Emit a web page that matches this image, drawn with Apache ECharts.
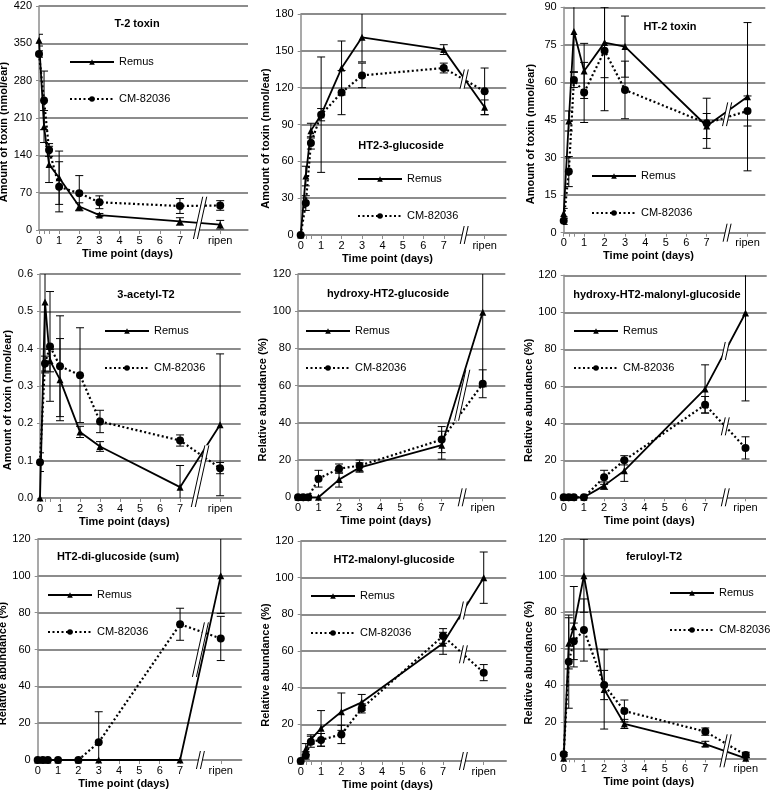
<!DOCTYPE html>
<html><head><meta charset="utf-8">
<script src="https://cdn.jsdelivr.net/npm/echarts@6/dist/echarts.min.js"></script>
<style>html,body{margin:0;padding:0;background:#fff}#c{width:774px;height:793px}</style>
</head><body><div id="c"></div>
<script>
// ---------- data ----------
const timePoints = [0, 0.25, 0.5, 1, 2, 3, 7, 9];
const xLabelValues = [0, 1, 2, 3, 4, 5, 6, 7, 9];
const xTickValues = [0, 0.25, 0.5, 1, 2, 3, 4, 5, 6, 7, 9];
const ripenValue = 9;
const ripenLabel = 'ripen';
const breakX = 8;
const seriesNames = ['Remus', 'CM-82036'];
const xAxisName = 'Time point (days)';
const panelTitles = ['T-2 toxin', 'HT2-3-glucoside', 'HT-2 toxin', '3-acetyl-T2', 'hydroxy-HT2-glucoside',
  'hydroxy-HT2-malonyl-glucoside', 'HT2-di-glucoside (sum)', 'HT2-malonyl-glucoside', 'feruloyl-T2'];
const yAxisNames = ['Amount of toxin (nmol/ear)', 'Amount of toxin (nmol/ear)', 'Amount of toxin (nmol/ear)',
  'Amount of toxin (nmol/ear)', 'Relative abundance (%)', 'Relative abundance (%)', 'Relative abundance (%)',
  'Relative abundance (%)', 'Relative abundance (%)'];
const yMaxes = [420, 180, 90, 0.6, 120, 120, 120, 120, 120];
const yIntervals = [70, 30, 15, 0.1, 20, 20, 20, 20, 20];
const yDecimals = [0, 0, 0, 1, 0, 0, 0, 0, 0];

const t2Remus = [356, 194, 123, 98, 44, 28, 16, 10];
const t2RemusSd = [11, 30, 34, 50, 7, 3, 7, 8];
const t2Cm = [330, 243, 150, 81, 69, 52, 45, 46];
const t2CmSd = [6, 55, 12, 47, 33, 12, 14, 9];

const ht2GlcRemus = [0, 48, 85, 98, 136, 161, 151, 104];
const ht2GlcRemusSd = [0, 8, 6, 47, 22, 20, 4, 6];
const ht2GlcCm = [0, 26, 75, 98, 116, 130, 136, 117];
const ht2GlcCmSd = [0, 6, 5, 5, 18, 10, 4, 19];

const ht2Remus = [7.7, 44.6, 80.3, 64.6, 75.9, 74.3, 42.6, 54.3];
const ht2RemusSd = [2, 4, 16, 11, 14, 12.2, 5, 29.6];
const ht2Cm = [4.8, 24.4, 61, 56, 72.7, 57, 43.7, 48.6];
const ht2CmSd = [1.5, 6, 3, 12, 24, 11.5, 10, 6];

const acRemus = [0, 0.525, 0.368, 0.317, 0.177, 0.138, 0.029, 0.196];
const acRemusSd = [0, 0.19, 0.03, 0.11, 0.015, 0.013, 0.058, 0.19];
const acCm = [0.096, 0.36, 0.406, 0.353, 0.329, 0.205, 0.154, 0.080];
const acCmSd = [0.025, 0.02, 0.147, 0.135, 0.127, 0.03, 0.015, 0.015];

const hGlcRemus = [0, 0, 0, 0, 9.5, 16, 28, 99.4];
const hGlcRemusSd = [0, 0, 0, 0, 4, 2.5, 7.5, 40];
const hGlcCm = [0, 0, 0, 10, 15.4, 17, 31, 61];
const hGlcCmSd = [0, 0, 0, 4.5, 2.5, 3, 7, 7.5];

const hMalRemus = [0, 0, 0, 0, 6.3, 14.4, 58.6, 99.6];
const hMalRemusSd = [0, 0, 0, 0, 2, 5.8, 13, 47.5];
const hMalCm = [0, 0, 0, 0, 10.8, 20, 50, 26.7];
const hMalCmSd = [0, 0, 0, 0, 3.8, 2.5, 4.5, 6];

const diGlcRemus = [0, 0, 0, 0, 0, 0, 0, 100];
const diGlcRemusSd = [0, 0, 0, 0, 0, 0, 0, 20.4];
const diGlcCm = [0, 0, 0, 0, 0, 9.6, 73.7, 66];
const diGlcCmSd = [0, 0, 0, 0, 0, 16.6, 8.7, 12];

const malGlcRemus = [0, 6.5, 11.8, 17.8, 26.9, 32, 64.2, 100];
const malGlcRemusSd = [0, 3, 2.5, 9.7, 10.2, 4.3, 6, 14];
const malGlcCm = [0, 3, 10.5, 11.5, 14.5, 28.7, 68.2, 48.2];
const malGlcCmSd = [0, 2, 3, 3.5, 5, 2.5, 4, 4.4];

const ferRemus = [0, 62.9, 72, 99.9, 37.7, 18.8, 7.8, 0];
const ferRemusSd = [0, 14, 22, 20, 21.7, 2.5, 1.5, 0.5];
const ferCm = [2.2, 52.9, 64, 70.2, 40.1, 25.9, 14.6, 1.8];
const ferCmSd = [1, 25.5, 10, 17, 8, 6, 2, 1.5];

const panelData = [
  [t2Remus, t2RemusSd, t2Cm, t2CmSd],
  [ht2GlcRemus, ht2GlcRemusSd, ht2GlcCm, ht2GlcCmSd],
  [ht2Remus, ht2RemusSd, ht2Cm, ht2CmSd],
  [acRemus, acRemusSd, acCm, acCmSd],
  [hGlcRemus, hGlcRemusSd, hGlcCm, hGlcCmSd],
  [hMalRemus, hMalRemusSd, hMalCm, hMalCmSd],
  [diGlcRemus, diGlcRemusSd, diGlcCm, diGlcCmSd],
  [malGlcRemus, malGlcRemusSd, malGlcCm, malGlcCmSd],
  [ferRemus, ferRemusSd, ferCm, ferCmSd]
];

// ---------- layout ----------
const layout = [
  {l: 39, t: 6, w: 209, h: 224, xMax: 10.38, title: [137, 24], leg: [69, 62]},
  {l: 300.7, t: 14, w: 205.6, h: 221, xMax: 10.06, title: [401, 146], leg: [357, 179]},
  {l: 563.7, t: 7.3, w: 201.6, h: 225.4, xMax: 9.87, title: [670, 27], leg: [591, 176]},
  {l: 40, t: 274, w: 200.7, h: 224, xMax: 10.03, title: [146, 295], leg: [104, 331]},
  {l: 298, t: 274, w: 207.3, h: 223.3, xMax: 10.1, title: [388, 294], leg: [305, 331]},
  {l: 563.7, t: 275.3, w: 203, h: 222, xMax: 10.05, title: [657, 295], leg: [573, 331]},
  {l: 37.7, t: 539, w: 204, h: 221, xMax: 10.03, title: [118, 557], leg: [47, 595]},
  {l: 300.7, t: 541, w: 205.6, h: 220, xMax: 10.11, title: [394, 560], leg: [310, 596]},
  {l: 563.7, t: 539, w: 202.3, h: 219.3, xMax: 10.0, title: [654, 557], leg: [669, 593]}
];
const FONT = '"Liberation Sans", Arial, sans-serif';
const GRID_COLOR = '#8c8c8c';

function errData(vals, sds) {
  const out = [];
  timePoints.forEach((x, j) => { if (sds[j] > 0) out.push([x, vals[j] - sds[j], vals[j] + sds[j]]); });
  return out;
}
function breakSpans(rem, cm, ymax) {
  const i7 = timePoints.indexOf(7), iR = timePoints.indexOf(ripenValue);
  const vals = [0, (rem[i7] + rem[iR]) / 2, (cm[i7] + cm[iR]) / 2].sort((a, b) => a - b);
  const spans = [];
  let cur = [vals[0], vals[0]];
  for (let k = 1; k < vals.length; k++) {
    if (vals[k] - cur[1] < 0.19 * ymax) cur[1] = vals[k];
    else { spans.push(cur); cur = [vals[k], vals[k]]; }
  }
  spans.push(cur);
  return spans.map(s => [breakX, s[0], s[1]]);
}
function renderErr(params, api) {
  const x = api.value(0), lo = api.value(1), hi = api.value(2);
  const a = api.coord([x, hi]), b = api.coord([x, lo]);
  const w = 4, st = {stroke: '#000', lineWidth: 1};
  return {type: 'group', children: [
    {type: 'line', shape: {x1: a[0], y1: a[1], x2: b[0], y2: b[1]}, style: st},
    {type: 'line', shape: {x1: a[0] - w, y1: a[1], x2: a[0] + w, y2: a[1]}, style: st},
    {type: 'line', shape: {x1: b[0] - w, y1: b[1], x2: b[0] + w, y2: b[1]}, style: st}
  ]};
}
function renderBreak(params, api) {
  const x = api.value(0), lo = api.value(1), hi = api.value(2);
  const a = api.coord([x, lo]), b = api.coord([x, hi]);
  const yB = a[1] + 9, yT = b[1] - 9;
  const dx = (yB - yT) * 0.11, g = 2, cx = a[0];
  const bl = cx - dx, tl = cx + dx;
  const st = {stroke: '#000', lineWidth: 1};
  return {type: 'group', children: [
    {type: 'polygon', shape: {points: [[bl - g, yB], [tl - g, yT], [tl + g, yT], [bl + g, yB]]}, style: {fill: '#fff'}},
    {type: 'line', shape: {x1: bl - g, y1: yB, x2: tl - g, y2: yT}, style: st},
    {type: 'line', shape: {x1: bl + g, y1: yB, x2: tl + g, y2: yT}, style: st}
  ]};
}

const grid = [], xAxis = [], yAxis = [], series = [], legend = [], graphic = [];
layout.forEach((L, i) => {
  const [rem, remSd, cm, cmSd] = panelData[i];
  grid.push({left: L.l, top: L.t, width: L.w, height: L.h, outerBoundsMode: 'none'});
  xAxis.push({
    gridIndex: i, type: 'value', min: 0, max: L.xMax,
    name: xAxisName, nameLocation: 'middle', nameGap: 18,
    nameTextStyle: {fontFamily: FONT, fontWeight: 'bold', fontSize: 11, color: '#000', padding: [0, 32, 0, 0]},
    axisLine: {show: true, onZero: false, lineStyle: {color: GRID_COLOR, width: 1.5}},
    axisTick: {show: true, customValues: xTickValues, length: 4, lineStyle: {color: GRID_COLOR}},
    axisLabel: {customValues: xLabelValues, margin: 5, fontFamily: FONT, fontSize: 11, color: '#000',
      formatter: v => (v === ripenValue ? ripenLabel : String(v))},
    splitLine: {show: false}
  });
  yAxis.push({
    gridIndex: i, type: 'value', min: 0, max: yMaxes[i], interval: yIntervals[i],
    name: yAxisNames[i], nameLocation: 'middle', nameGap: 27,
    nameTextStyle: {fontFamily: FONT, fontWeight: 'bold', fontSize: 11, color: '#000', padding: [0, 28, 0, 0]},
    axisLine: {show: true, lineStyle: {color: GRID_COLOR, width: 1.5}},
    axisTick: {show: true, length: 3, lineStyle: {color: GRID_COLOR}},
    axisLabel: {margin: 7, fontFamily: FONT, fontSize: 11, color: '#000',
      formatter: v => v.toFixed(yDecimals[i])},
    splitLine: {show: true, lineStyle: {color: GRID_COLOR, width: 2}}
  });
  series.push({
    type: 'custom', xAxisIndex: i, yAxisIndex: i, renderItem: renderErr, clip: true, z: 2,
    encode: {x: 0, y: [1, 2]}, data: errData(rem, remSd), silent: true
  });
  series.push({
    type: 'custom', xAxisIndex: i, yAxisIndex: i, renderItem: renderErr, clip: true, z: 2,
    encode: {x: 0, y: [1, 2]}, data: errData(cm, cmSd), silent: true
  });
  series.push({
    name: seriesNames[0], type: 'line', xAxisIndex: i, yAxisIndex: i, z: 3,
    data: timePoints.map((x, j) => [x, rem[j]]),
    symbol: 'triangle', symbolSize: 7, itemStyle: {color: '#000'},
    lineStyle: {color: '#000', width: 1.8}, animation: false
  });
  series.push({
    name: seriesNames[1], type: 'line', xAxisIndex: i, yAxisIndex: i, z: 4,
    data: timePoints.map((x, j) => [x, cm[j]]),
    symbol: 'circle', symbolSize: 8, itemStyle: {color: '#000'},
    lineStyle: {color: '#000', width: 2.2, type: [2, 2.5]}, animation: false
  });
  series.push({
    type: 'custom', xAxisIndex: i, yAxisIndex: i, renderItem: renderBreak, clip: false, z: 6,
    encode: {x: 0, y: [1, 2]}, data: breakSpans(rem, cm, yMaxes[i]), silent: true
  });
  legend.push({
    left: L.leg[0], top: L.leg[1] - 6, orient: 'vertical', itemGap: 25, itemWidth: 44, itemHeight: 7,
    padding: 0, selectedMode: false, data: seriesNames,
    textStyle: {fontFamily: FONT, fontSize: 11, color: '#000', lineHeight: 12}
  });
  graphic.push({
    type: 'text', x: L.title[0], y: L.title[1], z: 10,
    style: {text: panelTitles[i], fontFamily: FONT, fontWeight: 'bold', fontSize: 11, fill: '#000',
      textAlign: 'center', textVerticalAlign: 'middle'}
  });
});

const chart = echarts.init(document.getElementById('c'), null, {renderer: 'canvas'});
chart.setOption({animation: false, backgroundColor: '#fff', grid, xAxis, yAxis, series, legend, graphic});
</script></body></html>
